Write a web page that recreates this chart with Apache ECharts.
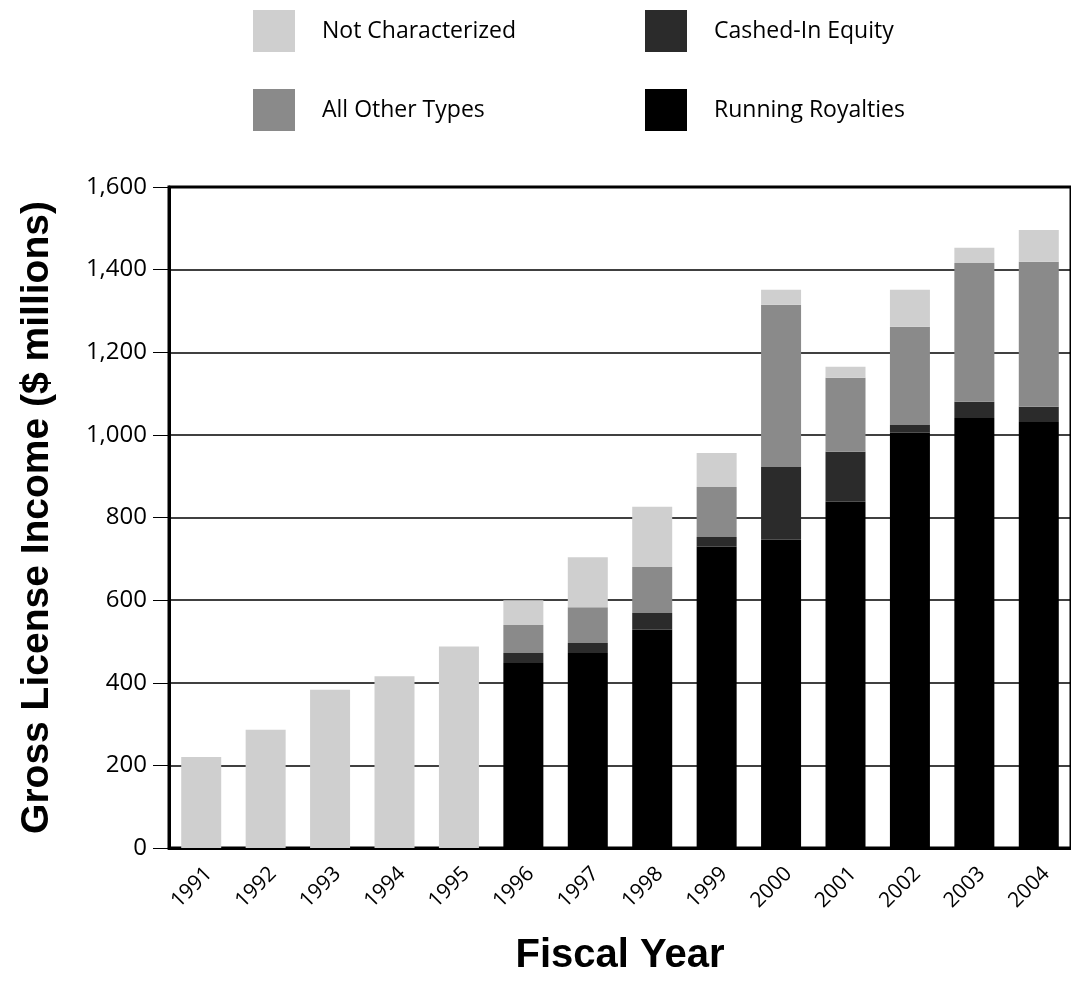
<!DOCTYPE html>
<html>
<head>
<meta charset="utf-8">
<title>Gross License Income</title>
<script src="https://cdn.jsdelivr.net/npm/echarts@6/dist/echarts.min.js"></script>
<style>
  html, body { margin: 0; padding: 0; background: #fff; }
  #chart { width: 1071px; height: 986px; }
</style>
</head>
<body>
<div id="chart"></div>
<script>
// Fiscal years on the category axis
const years = ['1991','1992','1993','1994','1995','1996','1997','1998','1999','2000','2001','2002','2003','2004'];

// Income by type, $ millions (stacked bottom to top)
const runningRoyalties = [0, 0, 0, 0, 0, 448, 472, 528, 729, 746, 838, 1005, 1041, 1031];
const cashedInEquity   = [0, 0, 0, 0, 0, 24, 24, 41, 24, 176, 121, 19, 39, 37];
const allOtherTypes    = [0, 0, 0, 0, 0, 68, 87, 111, 121, 393, 179, 238, 336, 351];
const notCharacterized = [220, 286, 383, 416, 488, 60, 121, 146, 82, 36, 27, 89, 37, 77];

// Value axis ticks
const yMin = 0, yMax = 1600, yStep = 200;

const labelFont = '"Open Sans", "Liberation Sans", Arial, sans-serif';
const titleFont = '"Liberation Sans", Arial, sans-serif';

const chart = echarts.init(document.getElementById('chart'));

function barSeries(name, data, color) {
  return {
    name: name,
    type: 'bar',
    stack: 'income',
    data: data,
    barWidth: 40,
    itemStyle: { color: color },
    emphasis: { disabled: true }
  };
}

function legendColumn(left, names) {
  return {
    left: left, top: 10,
    padding: 0,
    orient: 'vertical',
    itemWidth: 42, itemHeight: 42, itemGap: 37,
    icon: 'rect',
    selectedMode: false,
    textStyle: { fontFamily: labelFont, fontSize: 23, color: '#000', padding: [0, 0, 0, 22] },
    data: names
  };
}

chart.setOption({
  animation: false,
  backgroundColor: '#ffffff',
  legend: [
    legendColumn(253, ['Not Characterized', 'All Other Types']),
    legendColumn(645, ['Cashed-In Equity', 'Running Royalties'])
  ],
  grid: {
    left: 169, right: -4, top: 187, bottom: 138,
    show: true, borderColor: '#000', borderWidth: 3
  },
  xAxis: {
    type: 'category',
    data: years,
    name: 'Fiscal Year',
    nameLocation: 'middle',
    nameGap: 88,
    nameTextStyle: { fontFamily: titleFont, fontWeight: 'bold', fontSize: 40, color: '#000' },
    axisLine: { lineStyle: { color: '#000', width: 3 } },
    axisTick: { length: 15, lineStyle: { color: '#000', width: 1 } },
    axisLabel: {
      rotate: 45, margin: 15,
      verticalAlign: 'top',
      fontFamily: labelFont, fontSize: 21, color: '#000'
    }
  },
  yAxis: {
    type: 'value',
    min: yMin, max: yMax, interval: yStep,
    name: 'Gross License Income ($ millions)',
    nameLocation: 'middle',
    nameGap: 112,
    nameTextStyle: { fontFamily: titleFont, fontWeight: 'bold', fontSize: 39, color: '#000' },
    axisLine: { show: true, lineStyle: { color: '#000', width: 3 } },
    axisTick: { show: true, inside: false, length: 16, lineStyle: { color: '#000', width: 1 } },
    axisLabel: {
      margin: 22,
      fontFamily: labelFont, fontSize: 24, color: '#000',
      formatter: v => v.toLocaleString('en-US')
    },
    splitLine: { lineStyle: { color: '#000', width: 1.5 } }
  },
  series: [
    barSeries('Running Royalties', runningRoyalties, '#000000'),
    barSeries('Cashed-In Equity', cashedInEquity, '#2b2b2b'),
    barSeries('All Other Types', allOtherTypes, '#8a8a8a'),
    barSeries('Not Characterized', notCharacterized, '#cfcfcf')
  ]
});
</script>
</body>
</html>
